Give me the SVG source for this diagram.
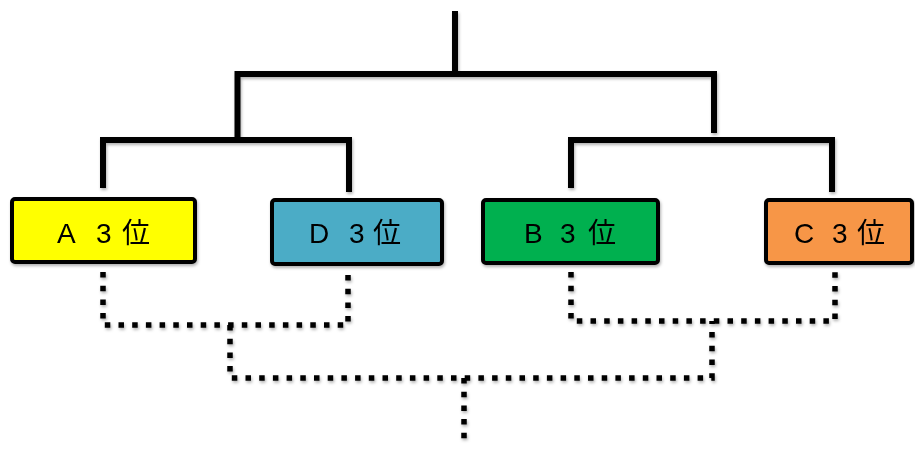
<svg xmlns="http://www.w3.org/2000/svg" width="915" height="451" viewBox="0 0 915 451">
<defs>
<filter id="sh" x="-10%" y="-10%" width="120%" height="120%">
<feDropShadow dx="1" dy="2" stdDeviation="1.5" flood-color="#000" flood-opacity="0.3"/>
</filter>
</defs>
<style>
.solid{fill:none;stroke:#000;stroke-width:6;stroke-linecap:butt;stroke-linejoin:miter}
.dot{fill:none;stroke:#000;stroke-width:5.5;stroke-dasharray:5.5 8.2}
.box{stroke:#000;stroke-width:4}
.lbl{font-family:"Liberation Sans","Noto Sans CJK JP",sans-serif;font-size:28px;fill:#000}
</style>
<rect width="915" height="451" fill="#fff"/>
<g id="connectors" filter="url(#sh)">
<path class="solid" d="M455,11 V74"/>
<path class="solid" d="M237.5,140 V74 H714 V133"/>
<path class="solid" d="M103,188 V140 H349 V192"/>
<path class="solid" d="M571,188 V140 H832 V192"/>
<path class="dot" d="M103,272 V325 H348 V272"/>
<path class="dot" d="M571,272 V321 H835 V272"/>
<path class="dot" d="M230,325 V378 H712 V321"/>
<path class="dot" d="M464,378 V446"/>
</g>
<g id="nodeA" filter="url(#sh)">
<rect class="box" x="12" y="199" width="183" height="63" rx="3" fill="#FFFF00"/>
<text class="lbl" y="243"><tspan x="57">A</tspan><tspan x="96">3</tspan><tspan x="122">位</tspan></text>
</g>
<g id="nodeD" filter="url(#sh)">
<rect class="box" x="272" y="200" width="170" height="64" rx="3" fill="#4BACC6"/>
<text class="lbl" y="243"><tspan x="309">D</tspan><tspan x="349">3</tspan><tspan x="373">位</tspan></text>
</g>
<g id="nodeB" filter="url(#sh)">
<rect class="box" x="483" y="200" width="175" height="63" rx="3" fill="#00B050"/>
<text class="lbl" y="243"><tspan x="524">B</tspan><tspan x="560">3</tspan><tspan x="588">位</tspan></text>
</g>
<g id="nodeC" filter="url(#sh)">
<rect class="box" x="766" y="200" width="146" height="63" rx="3" fill="#F79646"/>
<text class="lbl" y="243"><tspan x="794">C</tspan><tspan x="832">3</tspan><tspan x="857">位</tspan></text>
</g>
</svg>
